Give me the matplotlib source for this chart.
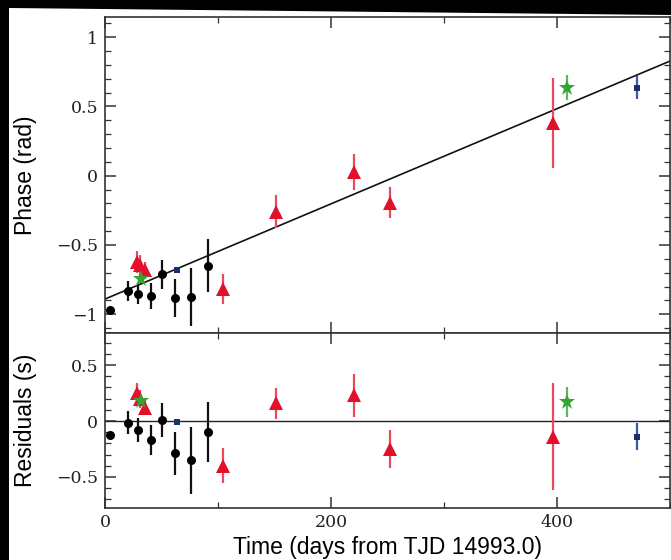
import numpy as np
import matplotlib
matplotlib.use("Agg")
import matplotlib.pyplot as plt
from matplotlib.patches import Polygon
from matplotlib.ticker import MultipleLocator, FuncFormatter

# --- data ---
# black circles
t_blk = [4.4, 20.6, 29.5, 40.7, 50.7, 62.0, 76.0, 91.5]
ph_blk = [-0.97, -0.835, -0.85, -0.87, -0.71, -0.88, -0.875, -0.65]
ph_blk_err = [0.02, 0.072, 0.075, 0.095, 0.105, 0.137, 0.21, 0.19]
res_blk = [-0.125, -0.015, -0.08, -0.17, 0.01, -0.29, -0.35, -0.10]
res_blk_err = [0.02, 0.104, 0.11, 0.134, 0.15, 0.19, 0.30, 0.27]

# red triangles
t_red = [28.0, 31.0, 35.0, 104.0, 151.0, 220.0, 252.0, 396.7]
ph_red = [-0.625, -0.645, -0.68, -0.815, -0.26, 0.03, -0.195, 0.383]
ph_red_err = [0.08, 0.07, 0.06, 0.108, 0.12, 0.13, 0.11, 0.325]
res_red = [0.25, 0.20, 0.12, -0.40, 0.158, 0.23, -0.25, -0.14]
res_red_err = [0.09, 0.08, 0.07, 0.156, 0.14, 0.19, 0.17, 0.48]

# green stars
t_grn = [31.5, 408.5]
ph_grn = [-0.745, 0.635]
ph_grn_err = [0.03, 0.09]
res_grn = [0.18, 0.17]
res_grn_err = [0.03, 0.13]

# blue squares
t_blu = [64.0, 471.0]
ph_blu = [-0.68, 0.635]
ph_blu_err = [0.01, 0.084]
res_blu = [-0.01, -0.14]
res_blu_err = [0.01, 0.12]

# linear phase fit
fit_t = [0.0, 500.0]
fit_ph = [-0.89, 0.827]

# --- figure ---
W, H = 671, 560
fig = plt.figure(figsize=(W / 100, H / 100), dpi=100, facecolor="black")
# white page with a black scanner border on top/left
page = Polygon([(9, 0), (W, 0), (W, H - 15), (9, H - 8)], closed=True,
               transform=None, facecolor="white", edgecolor="none", zorder=-5)
fig.patches.append(page)

left = 105 / W
width = (670 - 105) / W
ax1 = fig.add_axes([left, 1 - 333 / H, width, (333 - 17) / H])
ax2 = fig.add_axes([left, 1 - 508 / H, width, (508 - 333) / H], sharex=ax1)

tick_font = {"family": "DejaVu Serif", "size": 12.5}
label_font = {"family": "Liberation Sans", "size": 16.5}
fmt = FuncFormatter(lambda v, p: ("%g" % v).replace("-", "\u2212"))


def style(ax):
    for s in ax.spines.values():
        s.set_color("#333333")
        s.set_linewidth(1.2)
    ax.tick_params(which="both", direction="in", top=True, right=True,
                   color="#333333", labelcolor="#222222")
    ax.tick_params(which="major", length=8, width=1.1, pad=5)
    ax.tick_params(which="minor", length=4, width=0.9)
    ax.xaxis.set_major_locator(MultipleLocator(200))
    ax.xaxis.set_minor_locator(MultipleLocator(100))
    ax.yaxis.set_major_formatter(fmt)
    ax.xaxis.set_major_formatter(fmt)
    for lab in ax.get_xticklabels() + ax.get_yticklabels():
        lab.set_fontfamily(tick_font["family"])
        lab.set_fontsize(tick_font["size"])


def draw(ax, t, y, e, marker, mc, ec, ms):
    ax.errorbar(t, y, yerr=e, fmt=marker, color=mc, ecolor=ec, elinewidth=1.6,
                capsize=0, markersize=ms, markeredgewidth=0, zorder=3)


# top panel
ax1.plot(fit_t, fit_ph, color="#111111", lw=1.2, zorder=2)
draw(ax1, t_blk, ph_blk, ph_blk_err, "o", "black", "#111111", 6.5)
draw(ax1, t_red, ph_red, ph_red_err, "^", "#e3102b", "#ea4a5a", 10.5)
draw(ax1, t_grn, ph_grn, ph_grn_err, "*", "#34a534", "#5cb85c", 12)
draw(ax1, t_blu, ph_blu, ph_blu_err, "s", "#18306e", "#3a5aa8", 5)
ax1.set_xlim(0, 500)
ax1.set_ylim(-1.135, 1.145)
ax1.yaxis.set_major_locator(MultipleLocator(0.5))
ax1.yaxis.set_minor_locator(MultipleLocator(0.1))
style(ax1)
ax1.tick_params(labelbottom=False)
ax1.set_ylabel("Phase (rad)", fontdict=label_font)

# residuals panel
ax2.axhline(0, color="#222222", lw=1.0, zorder=2)
draw(ax2, t_blk, res_blk, res_blk_err, "o", "black", "#111111", 6.5)
draw(ax2, t_red, res_red, res_red_err, "^", "#e3102b", "#ea4a5a", 10.5)
draw(ax2, t_grn, res_grn, res_grn_err, "*", "#34a534", "#5cb85c", 12)
draw(ax2, t_blu, res_blu, res_blu_err, "s", "#18306e", "#3a5aa8", 5)
ax2.set_ylim(-0.777, 0.786)
ax2.yaxis.set_major_locator(MultipleLocator(0.5))
ax2.yaxis.set_minor_locator(MultipleLocator(0.1))
style(ax2)
ax2.tick_params(axis="x", which="major", pad=4)
ax2.set_ylabel("Residuals (s)", fontdict=label_font)
ax2.set_xlabel("Time (days from TJD 14993.0)", fontdict=label_font)
ax2.xaxis.set_label_coords(0.5, -(536 - 508) / (508 - 333))

# put both y labels at the same pixel column, as in the reference
ylab_x = (37 - 105) / (670 - 105)
ax1.yaxis.set_label_coords(ylab_x, 0.5)
ax2.yaxis.set_label_coords(ylab_x, 0.5)

fig.savefig("out.png", dpi=100, facecolor=fig.get_facecolor())
